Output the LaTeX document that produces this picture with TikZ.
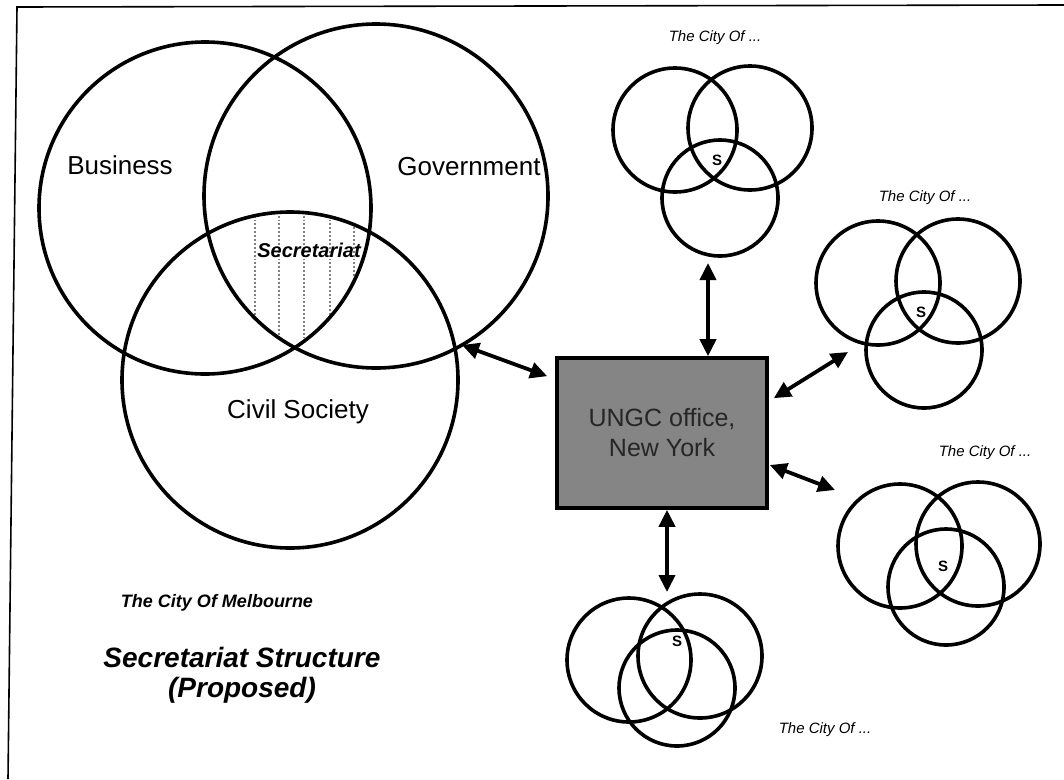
\documentclass[tikz,border=0pt]{standalone}
\usepackage{fontspec}
\setmainfont{Liberation Sans}
\usetikzlibrary{arrows.meta,calc}

\tikzset{
  ring/.style={circle,draw,line width=3.6pt,inner sep=0pt},
  cityring/.style={ring,minimum size=124pt},
  link/.style={{Triangle[length=17pt,width=16pt]}-{Triangle[length=17pt,width=16pt]},line width=3.8pt},
  sector/.style={font=\fontsize{26}{26}\selectfont},
  slabel/.style={font=\bfseries\fontsize{15}{15}\selectfont},
  cityname/.style={font=\itshape\fontsize{15}{15}\selectfont},
  office/.style={draw,line width=3.6pt,fill=black!48,text=black!85,align=center,
    minimum width=210pt,minimum height=150pt,font=\fontsize{25}{30}\selectfont},
  hatch/.style={black!50,dotted,line width=1.9pt}
}

\begin{document}
\begin{tikzpicture}[x=1pt,y=-1pt]
  \useasboundingbox (0,0) rectangle (1064,779);
  % frame
  \draw[line width=1.6pt] (8,779) -- (17,7) -- (1064,5);

  % the secretariat, hatched
  \begin{scope}
    \clip (205,208) circle (166pt);
    \clip (376,196) circle (172pt);
    \clip (290,380) circle (168pt);
    \draw[hatch] (255,200) -- (255,380);
    \draw[hatch] (279,200) -- (279,380);
    \draw[hatch] (304,200) -- (304,380);
    \draw[hatch] (330,200) -- (330,380);
    \draw[hatch] (354,200) -- (354,380);
  \end{scope}

  % Melbourne
  \node[ring,minimum size=332pt] (bus) at (205,208) {};
  \node[ring,minimum size=344pt] (gov) at (376,196) {};
  \node[ring,minimum size=336pt] (civ) at (290,380) {};
  \node[sector] (busl) at (120,165) {Business};
  \node[sector] (govl) at (469,167) {Government};
  \node[sector] (civl) at (298,412) {Civil Society};
  \node[font=\bfseries\itshape\fontsize{20}{20}\selectfont] (secl) at (309,250) {Secretariat};
  \node[font=\bfseries\itshape\fontsize{18}{18}\selectfont] (mel) at (217,603) {The City Of Melbourne};
  \node[font=\bfseries\itshape\fontsize{28}{30}\selectfont,align=center] (title) at (242,675)
    {Secretariat Structure\\(Proposed)};

  % New York
  \node[office] (ungc) at (662,433) {UNGC office,\\New York};

  % city 1
  \node[cityring] (c1a) at (675,130) {};
  \node[cityring] (c1b) at (750,128) {};
  \node[cityring,minimum size=116pt] (c1c) at (720,198) {};
  \node[slabel] (s1) at (717,160) {S};
  \node[cityname] (n1) at (715,38) {The City Of ...};

  % city 2
  \node[cityring] (c2a) at (878,283) {};
  \node[cityring] (c2b) at (958,281) {};
  \node[cityring,minimum size=116pt] (c2c) at (924,350) {};
  \node[slabel] (s2) at (921,312) {S};
  \node[cityname] (n2) at (925,198) {The City Of ...};

  % city 3
  \node[cityring] (c3a) at (900,546) {};
  \node[cityring] (c3b) at (978,544) {};
  \node[cityring,minimum size=116pt] (c3c) at (946,587) {};
  \node[slabel] (s3) at (943,566) {S};
  \node[cityname] (n3) at (985,453) {The City Of ...};

  % city 4
  \node[cityring] (c4a) at (629,660) {};
  \node[cityring] (c4b) at (700,656) {};
  \node[cityring,minimum size=116pt] (c4c) at (677,688) {};
  \node[slabel] (s4) at (677,641) {S};
  \node[cityname] (n4) at (825,730) {The City Of ...};

  % links to New York
  \coordinate (e0) at (462,345);
  \coordinate (e1) at (708,263);
  \coordinate (e2) at (848,352);
  \coordinate (e3) at (835,490);
  \coordinate (e4) at (667,592);
  \draw[link] (e0) -- ($(ungc.north west)+(-8,20)$);
  \draw[link] (e1) -- (e1 |- ungc.north);
  \draw[link] (e2) -- ($(ungc.north east)+(5,42)$);
  \draw[link] (e3) -- ($(ungc.east)+(1,32)$);
  \draw[link] (e4) -- (e4 |- ungc.south);
\end{tikzpicture}
\end{document}
